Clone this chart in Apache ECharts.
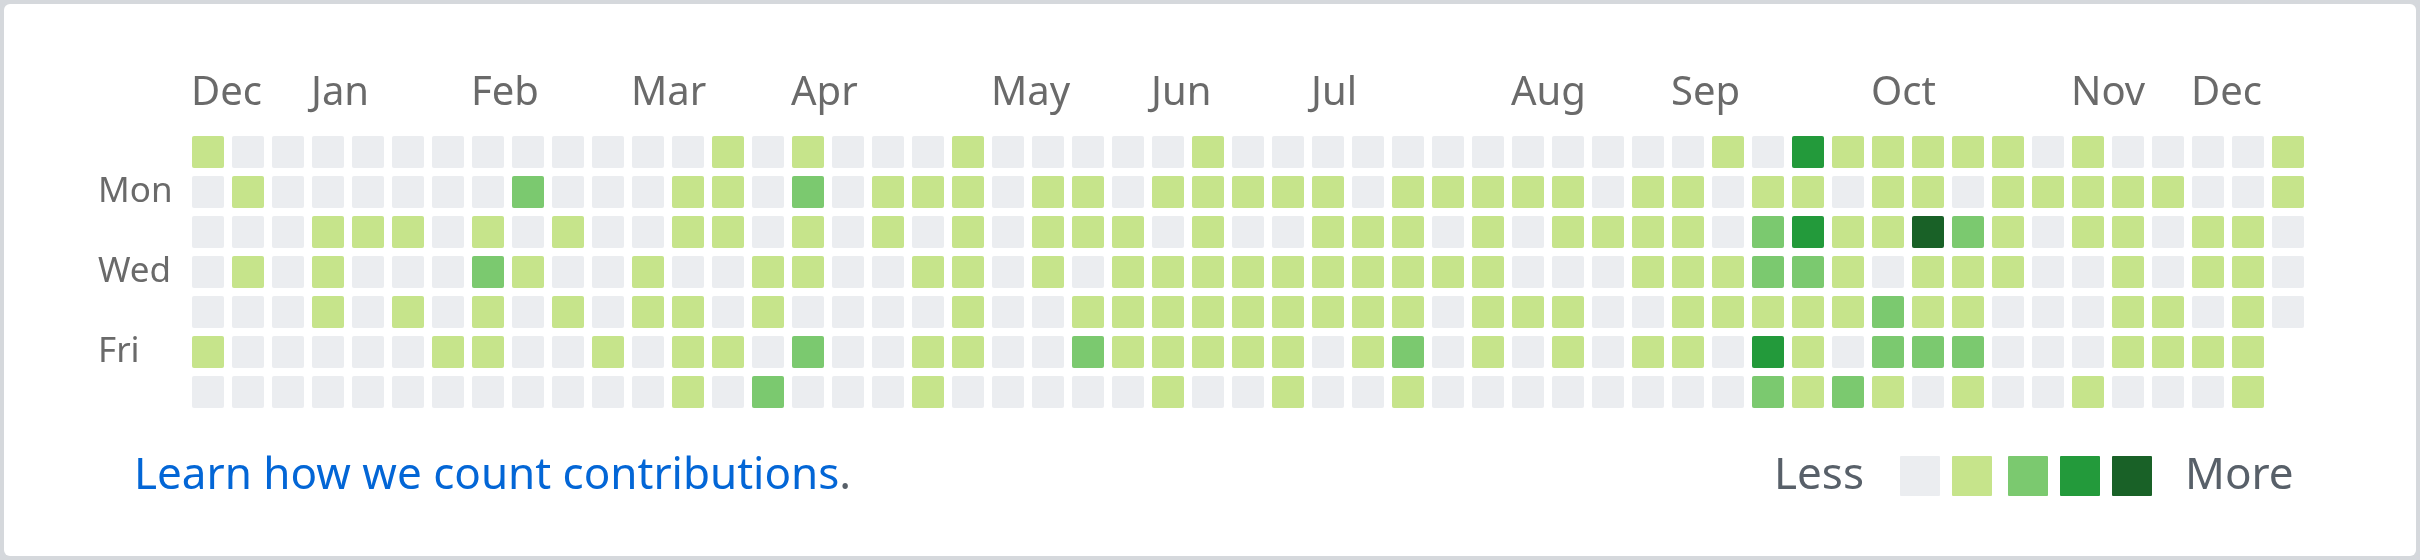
<!DOCTYPE html>
<html>
<head>
<meta charset="utf-8">
<script src="https://cdn.jsdelivr.net/npm/echarts@6/dist/echarts.min.js"></script>
<style>
  html, body { margin: 0; padding: 0; background: #d5d8dc; }
  #chart { width: 2420px; height: 560px; }
</style>
</head>
<body>
<div id="chart"></div>
<script>
// ---- data (contribution level 0-4 per day; rows = weekdays Sun..Sat, columns = weeks) ----
var sunRow = [1,0,0,0,0,0,0,0,0,0, 0,0,0,1,0,1,0,0,0,1, 0,0,0,0,0,1,0,0,0,0, 0,0,0,0,0,0,0,0,1,0, 3,1,1,1,1,1,0,1,0,0, 0,0,1];
var monRow = [0,1,0,0,0,0,0,0,2,0, 0,0,1,1,0,2,0,1,1,1, 0,1,1,0,1,1,1,1,1,0, 1,1,1,1,1,0,1,1,0,1, 1,0,1,1,0,1,1,1,1,1, 0,0,1];
var tueRow = [0,0,0,1,1,1,0,1,0,1, 0,0,1,1,0,1,0,1,0,1, 0,1,1,1,0,1,0,0,1,1, 1,0,1,0,1,1,1,1,0,2, 3,1,1,4,2,1,0,1,1,0, 1,1,0];
var wedRow = [0,1,0,1,0,0,0,2,1,0, 0,1,0,0,1,1,0,0,1,1, 0,1,0,1,1,1,1,1,1,1, 1,1,1,0,0,0,1,1,1,2, 2,1,0,1,1,1,0,0,1,0, 1,1,0];
var thuRow = [0,0,0,1,0,1,0,1,0,1, 0,1,1,0,1,0,0,0,0,1, 0,0,1,1,1,1,1,1,1,1, 1,0,1,1,1,0,0,1,1,1, 1,1,2,1,1,0,0,0,1,1, 0,1,0];
var friRow = [1,0,0,0,0,0,1,1,0,0, 1,0,1,1,0,2,0,0,1,1, 0,0,2,1,1,1,1,1,0,1, 2,0,1,0,1,0,1,1,0,3, 1,0,2,2,2,0,0,0,1,1, 1,1,null];
var satRow = [0,0,0,0,0,0,0,0,0,0, 0,0,1,0,2,0,0,0,1,0, 0,0,0,0,1,0,0,1,0,0, 1,0,0,0,0,0,0,0,0,2, 1,2,1,0,1,0,0,1,0,0, 0,1,null];

var dayLabels = ['', 'Mon', '', 'Wed', '', 'Fri', ''];
var monthNames = ['Dec', 'Jan', 'Feb', 'Mar', 'Apr', 'May', 'Jun', 'Jul', 'Aug', 'Sep', 'Oct', 'Nov', 'Dec'];
var monthCols  = [0, 3, 7, 11, 15, 20, 24, 28, 33, 37, 42, 47, 50];
var levelColors = ['#ebedf0', '#c6e48b', '#7bc96f', '#239a3b', '#196127'];
var linkText = 'Learn how we count contributions';
var lessText = 'Less';
var moreText = 'More';

// ---- build series data ----
var rows = [sunRow, monRow, tueRow, wedRow, thuRow, friRow, satRow];
var cells = [];
rows.forEach(function (row, r) {
  row.forEach(function (lv, c) {
    if (lv !== null) cells.push([c, r, lv]);
  });
});

var FONT = '"Noto Sans", "Liberation Sans", Arial, sans-serif';
var chart = echarts.init(document.getElementById('chart'), null, { renderer: 'canvas' });

var legendX = [1900, 1952, 2008, 2060, 2112];
var graphics = [
  { type: 'rect', z: -10, silent: true,
    shape: { x: 4, y: 4, width: 2412, height: 552, r: 6 },
    style: { fill: '#ffffff' } },
  { type: 'text', z: 10,
    style: { x: 134, y: 476, text: '{a|' + linkText + '}{b|.}', verticalAlign: 'middle', align: 'left',
      rich: {
        a: { fontSize: 44, fontFamily: FONT, fill: '#0366d6' },
        b: { fontSize: 44, fontFamily: FONT, fill: '#586069' }
      } } },
  { type: 'text', z: 10,
    style: { x: 1774, y: 476, text: lessText, fontSize: 44, fontFamily: FONT, fill: '#586069', verticalAlign: 'middle', align: 'left' } },
  { type: 'text', z: 10,
    style: { x: 2185, y: 476, text: moreText, fontSize: 44, fontFamily: FONT, fill: '#586069', verticalAlign: 'middle', align: 'left' } }
];
levelColors.forEach(function (col, i) {
  graphics.push({ type: 'rect', z: 10, shape: { x: legendX[i], y: 456, width: 40, height: 40, r: 1 }, style: { fill: col } });
});

chart.setOption({
  backgroundColor: '#d5d8dc',
  animation: false,
  graphic: graphics,
  grid: { left: 188, top: 132, width: 2120, height: 280, containLabel: false },
  xAxis: {
    type: 'value', min: 0, max: 53, position: 'top',
    axisLine: { show: false }, axisTick: { show: false }, splitLine: { show: false },
    axisLabel: {
      customValues: monthCols,
      formatter: function (v) { var i = monthCols.indexOf(v); return i >= 0 ? monthNames[i] : ''; },
      align: 'left', padding: [0, 0, 0, 3], margin: 18,
      fontSize: 40, fontFamily: FONT, color: '#6a6a6a'
    }
  },
  yAxis: {
    type: 'category', data: dayLabels, inverse: true,
    axisLine: { show: false }, axisTick: { show: false }, splitLine: { show: false },
    axisLabel: { interval: 0, align: 'left', margin: 90, fontSize: 35, fontFamily: FONT, color: '#6a6a6a' }
  },
  series: [{
    type: 'custom',
    data: cells,
    encode: { x: 0, y: 1 },
    renderItem: function (params, api) {
      var lv = api.value(2);
      var p = api.coord([api.value(0), api.value(1)]);
      var s = api.size([1, 1]);
      var pad = 4;
      return {
        type: 'rect',
        shape: { x: p[0] + pad, y: p[1] - s[1] / 2 + pad, width: s[0] - 2 * pad, height: s[1] - 2 * pad, r: 2 },
        style: { fill: levelColors[lv] }
      };
    }
  }]
});
</script>
</body>
</html>
